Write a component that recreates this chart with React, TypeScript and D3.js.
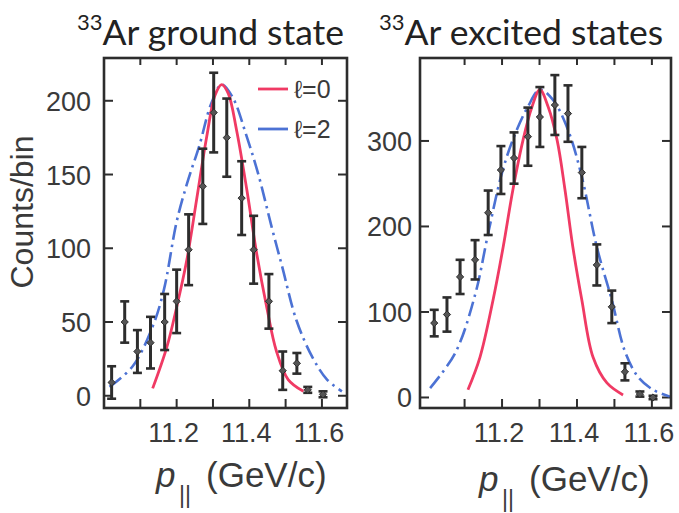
import React from 'react';
import * as d3 from 'd3';

const W = 679;
const H = 513;

// ---------- 33Ar ground state ----------
const gsBins = [11.021, 11.057, 11.092, 11.128, 11.167, 11.2, 11.233, 11.272, 11.302, 11.338, 11.379, 11.412, 11.454, 11.492, 11.531, 11.561, 11.603];
const gsCounts = [9, 50, 30, 36, 50, 64, 99, 142, 192, 175, 134, 99, 64, 17, 22, 4, 1];
const gsErrors = [11, 14, 14.5, 17.5, 19, 21.5, 24, 25.5, 27, 26.5, 25, 23, 18.5, 13, 7, 2, 2];

const gsL0X = [11.134, 11.173, 11.2, 11.228, 11.255, 11.283, 11.306, 11.324, 11.342, 11.365, 11.393, 11.42, 11.448, 11.475, 11.507, 11.549];
const gsL0Y = [5, 33, 60, 92, 133, 176, 204, 211, 205, 180, 140, 97, 60, 30, 11, 3];

const gsL2X = [11.015, 11.079, 11.134, 11.165, 11.2, 11.23, 11.263, 11.295, 11.324, 11.355, 11.39, 11.425, 11.462, 11.49, 11.53, 11.574, 11.614, 11.655];
const gsL2Y = [6, 20, 47, 72, 118, 145, 170, 198, 211, 202, 178, 150, 114, 88, 51, 26, 11, 3];

// ---------- 33Ar excited states ----------
const exBins = [11.019, 11.053, 11.088, 11.128, 11.163, 11.197, 11.232, 11.269, 11.301, 11.341, 11.376, 11.413, 11.453, 11.493, 11.528, 11.568, 11.603];
const exCounts = [87, 97, 141, 161, 216, 266, 280, 305, 328, 342, 332, 263, 155, 106, 30, 4, 0];
const exErrors = [15.5, 20, 20, 23, 26, 28, 30, 34, 35, 35, 33, 30, 24, 19, 10, 3, 2];

const exL0X = [11.109, 11.141, 11.176, 11.203, 11.229, 11.256, 11.28, 11.301, 11.323, 11.347, 11.368, 11.389, 11.413, 11.443, 11.48, 11.523];
const exL0Y = [9, 47, 114, 176, 243, 301, 340, 360, 340, 301, 243, 176, 114, 47, 17, 3];

const exL2X = [11.008, 11.075, 11.128, 11.163, 11.2, 11.232, 11.269, 11.301, 11.336, 11.376, 11.413, 11.453, 11.493, 11.528, 11.563, 11.603, 11.648];
const exL2Y = [11, 52, 120, 192, 263, 305, 340, 360, 348, 313, 258, 176, 114, 54, 24, 9, 1];

// ---------- axes ----------
const xTicks = [11.1, 11.2, 11.3, 11.4, 11.5, 11.6];
const xTickLabels = ['11.2', '11.4', '11.6'];
const gsYTicks = [0, 50, 100, 150, 200];
const exYTicks = [0, 100, 200, 300];
const gsXDomain: [number, number] = [11.0, 11.669];
const gsYDomain: [number, number] = [-8.3, 229];
const exXDomain: [number, number] = [10.981, 11.651];
const exYDomain: [number, number] = [-12.3, 397];

const legendLabels = ['\u2113=0', '\u2113=2'];

const RED = '#f03a64';
const BLUE = '#4c72d4';
const INK = '#2d2d2d';
const TEXT = '#3a3a3a';
const SANS = '"Liberation Sans", Arial, sans-serif';
const TITLE_FONT = 'Lato, "Noto Sans", sans-serif';

type PanelProps = {
  id: string;
  frame: { x0: number; x1: number; y0: number; y1: number };
  xDomain: [number, number];
  yDomain: [number, number];
  yTicks: number[];
  bins: number[];
  counts: number[];
  errors: number[];
  l0x: number[];
  l0y: number[];
  l2x: number[];
  l2y: number[];
  yLabelX: number;
  legend: boolean;
};

function Panel(p: PanelProps) {
  const { frame } = p;
  const x = d3.scaleLinear().domain(p.xDomain).range([frame.x0, frame.x1]);
  const y = d3.scaleLinear().domain(p.yDomain).range([frame.y1, frame.y0]);
  const line = d3
    .line<[number, number]>()
    .x((d) => x(d[0]))
    .y((d) => y(d[1]))
    .curve(d3.curveCatmullRom.alpha(0.5));
  const l0 = line(p.l0x.map((v, i) => [v, p.l0y[i]] as [number, number])) || '';
  const l2 = line(p.l2x.map((v, i) => [v, p.l2y[i]] as [number, number])) || '';
  const tl = 9;
  const xLabelTicks = xTickLabels.map((t) => +t);
  return (
    <g>
      <defs>
        <clipPath id={`clip-${p.id}`}>
          <rect x={frame.x0} y={frame.y0} width={frame.x1 - frame.x0} height={frame.y1 - frame.y0} />
        </clipPath>
      </defs>
      {xTicks.map((t) => (
        <g key={`xt${t}`} stroke={INK} strokeWidth={2}>
          <line x1={x(t)} x2={x(t)} y1={frame.y1} y2={frame.y1 - tl} />
          <line x1={x(t)} x2={x(t)} y1={frame.y0} y2={frame.y0 + tl - 2} />
        </g>
      ))}
      {p.yTicks.map((t) => (
        <g key={`yt${t}`} stroke={INK} strokeWidth={2}>
          <line x1={frame.x0} x2={frame.x0 + tl} y1={y(t)} y2={y(t)} />
          <line x1={frame.x1} x2={frame.x1 - tl} y1={y(t)} y2={y(t)} />
        </g>
      ))}
      {xTickLabels.map((t, i) => (
        <text
          key={`xl${t}`}
          x={x(xLabelTicks[i]) - 3}
          y={442}
          textAnchor="middle"
          fontFamily={SANS}
          fontSize={27}
          fill={TEXT}
        >
          {t}
        </text>
      ))}
      {p.yTicks.map((t) => (
        <text
          key={`yl${t}`}
          x={p.yLabelX}
          y={y(t) + 10}
          textAnchor="end"
          fontFamily={SANS}
          fontSize={27}
          fill={TEXT}
        >
          {t}
        </text>
      ))}
      <g clipPath={`url(#clip-${p.id})`}>
        <path d={l2} fill="none" stroke={BLUE} strokeWidth={2.6} strokeDasharray="15,5,2.5,5" />
        <path d={l0} fill="none" stroke={RED} strokeWidth={2.8} />
      </g>
      {p.bins.map((b, i) => {
        const cx = x(b);
        const yt = y(p.counts[i] + p.errors[i]);
        const yb = y(p.counts[i] - p.errors[i]);
        const cy = y(p.counts[i]);
        const cw = 4.5;
        const m = 3.6;
        return (
          <g key={`pt${i}`} stroke={INK}>
            <line x1={cx} x2={cx} y1={yt} y2={yb} strokeWidth={3} />
            <line x1={cx - cw} x2={cx + cw} y1={yt} y2={yt} strokeWidth={2.6} />
            <line x1={cx - cw} x2={cx + cw} y1={yb} y2={yb} strokeWidth={2.6} />
            <path
              d={`M${cx - m},${cy}L${cx},${cy - m}L${cx + m},${cy}L${cx},${cy + m}Z`}
              fill="#555"
              strokeWidth={1}
            />
          </g>
        );
      })}
      <rect
        x={frame.x0}
        y={frame.y0}
        width={frame.x1 - frame.x0}
        height={frame.y1 - frame.y0}
        fill="none"
        stroke={INK}
        strokeWidth={2.6}
      />
      {p.legend && (
        <g>
          <line x1={258} x2={288} y1={89} y2={89} stroke={RED} strokeWidth={2.8} />
          <text x={294} y={98} fontFamily={SANS} fontSize={25} fill={TEXT}>
            {legendLabels[0]}
          </text>
          <line x1={258} x2={288} y1={129} y2={129} stroke={BLUE} strokeWidth={2.8} />
          <text x={294} y={138} fontFamily={SANS} fontSize={25} fill={TEXT}>
            {legendLabels[1]}
          </text>
        </g>
      )}
    </g>
  );
}

function Title({ x, text }: { x: number; text: string }) {
  return (
    <text x={x} y={45} fontFamily={TITLE_FONT} fill="#222">
      <tspan fontSize={22} dy={-15}>
        33
      </tspan>
      <tspan fontSize={35.5} dy={15}>
        {text}
      </tspan>
    </text>
  );
}

function XLabel({ x, y }: { x: number; y: number }) {
  return (
    <g fontFamily={SANS} fill={TEXT}>
      <text x={x} y={y} fontSize={35} fontStyle="italic">
        p
      </text>
      <text x={x + 23} y={y + 16} fontSize={23} transform={`translate(0,0)`}>
        ||
      </text>
      <text x={x + 50} y={y} fontSize={35}>
        (GeV/c)
      </text>
    </g>
  );
}

export default function App() {
  return (
    <svg
      width={W}
      height={H}
      viewBox={`0 0 ${W} ${H}`}
      style={{ position: 'absolute', left: 0, top: 0, background: '#fff' }}
    >
      <rect x={0} y={0} width={W} height={H} fill="#fff" />
      <Title x={77} text="Ar ground state" />
      <Title x={379} text="Ar excited states" />
      <text
        transform="translate(33,212) rotate(-90)"
        textAnchor="middle"
        fontFamily={SANS}
        fontSize={32}
        fill={TEXT}
      >
        Counts/bin
      </text>
      <Panel
        id="gs"
        frame={{ x0: 104, x1: 347, y0: 58, y1: 408 }}
        xDomain={gsXDomain}
        yDomain={gsYDomain}
        yTicks={gsYTicks}
        bins={gsBins}
        counts={gsCounts}
        errors={gsErrors}
        l0x={gsL0X}
        l0y={gsL0Y}
        l2x={gsL2X}
        l2y={gsL2Y}
        yLabelX={91}
        legend={true}
      />
      <Panel
        id="ex"
        frame={{ x0: 420, x1: 671, y0: 58, y1: 408 }}
        xDomain={exXDomain}
        yDomain={exYDomain}
        yTicks={exYTicks}
        bins={exBins}
        counts={exCounts}
        errors={exErrors}
        l0x={exL0X}
        l0y={exL0Y}
        l2x={exL2X}
        l2y={exL2Y}
        yLabelX={412}
        legend={false}
      />
      <XLabel x={156} y={487} />
      <XLabel x={479} y={491} />
    </svg>
  );
}
